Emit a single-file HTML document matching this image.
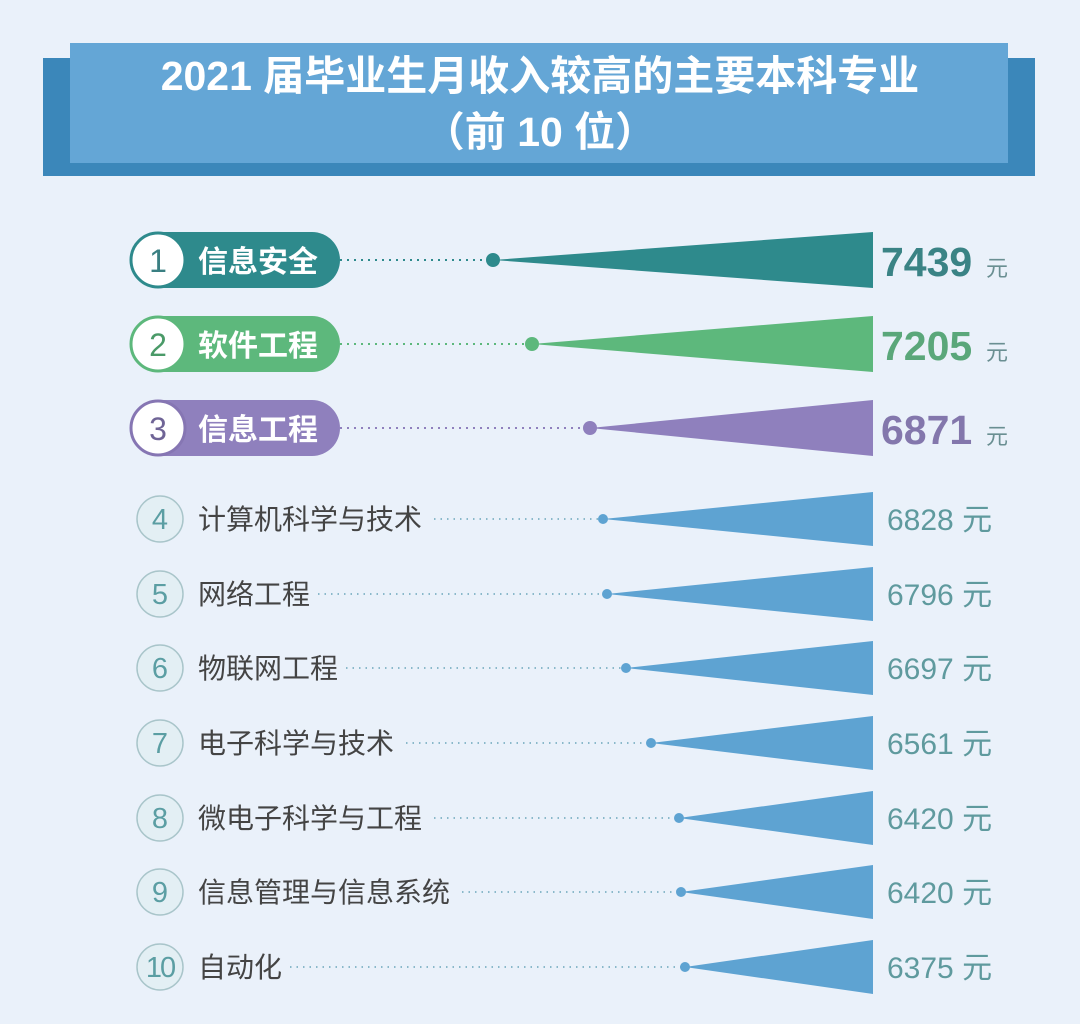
<!DOCTYPE html>
<html><head><meta charset="utf-8"><style>
html,body{margin:0;padding:0;background:#eaf1fa;}
svg{display:block}
text{font-family:"Liberation Sans","Noto Sans CJK SC",sans-serif;}
</style></head><body>
<svg width="1080" height="1024" viewBox="0 0 1080 1024" xmlns="http://www.w3.org/2000/svg">
<rect width="1080" height="1024" fill="#eaf1fa"/>
<rect x="43" y="58" width="992" height="118" fill="#3b87ba"/>
<rect x="70" y="43" width="938" height="120" fill="#64a6d6"/>
<text x="540" y="90" text-anchor="middle" font-size="41" font-weight="bold" fill="#fff">2021 届毕业生月收入较高的主要本科专业</text>
<text x="540" y="146" text-anchor="middle" font-size="41" font-weight="bold" fill="#fff">（前 10 位）</text>

<g stroke-dasharray="2 5" stroke-width="2" fill="none">
<line x1="340" y1="260" x2="493" y2="260" stroke="#2e8a8c"/>
<line x1="340" y1="344" x2="532" y2="344" stroke="#5db87c"/>
<line x1="340" y1="428" x2="590" y2="428" stroke="#8f80bd"/>
</g>
<g stroke="#6aa6ba" stroke-dasharray="1.5 5" stroke-width="1.5" fill="none">
<line x1="434" y1="519" x2="603" y2="519"/>
<line x1="318" y1="594" x2="607" y2="594"/>
<line x1="346" y1="668" x2="626" y2="668"/>
<line x1="406" y1="743" x2="651" y2="743"/>
<line x1="434" y1="818" x2="679" y2="818"/>
<line x1="462" y1="892" x2="681" y2="892"/>
<line x1="290" y1="967" x2="685" y2="967"/>
</g>

<polygon points="493,260 873,232 873,288" fill="#2e8a8c"/><circle cx="493" cy="260" r="7" fill="#2e8a8c"/>
<polygon points="532,344 873,316 873,372" fill="#5db87c"/><circle cx="532" cy="344" r="7" fill="#5db87c"/>
<polygon points="590,428 873,400 873,456" fill="#8f80bd"/><circle cx="590" cy="428" r="7" fill="#8f80bd"/>
<g fill="#5ea3d2">
<polygon points="603,519 873,492 873,546"/><circle cx="603" cy="519" r="5"/>
<polygon points="607,594 873,567 873,621"/><circle cx="607" cy="594" r="5"/>
<polygon points="626,668 873,641 873,695"/><circle cx="626" cy="668" r="5"/>
<polygon points="651,743 873,716 873,770"/><circle cx="651" cy="743" r="5"/>
<polygon points="679,818 873,791 873,845"/><circle cx="679" cy="818" r="5"/>
<polygon points="681,892 873,865 873,919"/><circle cx="681" cy="892" r="5"/>
<polygon points="685,967 873,940 873,994"/><circle cx="685" cy="967" r="5"/>
</g>

<rect x="132" y="232" width="208" height="56" rx="28" fill="#2e8a8c"/>
<circle cx="158" cy="260" r="27" fill="#fff" stroke="#2e8a8c" stroke-width="3"/>
<text x="158" y="272" text-anchor="middle" font-size="32" fill="#3a7f82">1</text>
<text x="198" y="272" font-size="30" font-weight="bold" fill="#fff">信息安全</text>

<rect x="132" y="316" width="208" height="56" rx="28" fill="#5db87c"/>
<circle cx="158" cy="344" r="27" fill="#fff" stroke="#5db87c" stroke-width="3"/>
<text x="158" y="356" text-anchor="middle" font-size="32" fill="#4a9a68">2</text>
<text x="198" y="356" font-size="30" font-weight="bold" fill="#fff">软件工程</text>

<rect x="132" y="400" width="208" height="56" rx="28" fill="#8f80bd"/>
<circle cx="158" cy="428" r="27" fill="#fff" stroke="#8676b3" stroke-width="3"/>
<text x="158" y="440" text-anchor="middle" font-size="32" fill="#6f6496">3</text>
<text x="198" y="440" font-size="30" font-weight="bold" fill="#fff">信息工程</text>

<g font-size="41" font-weight="bold">
<text x="881" y="276" fill="#3a8385">7439</text>
<text x="881" y="360" fill="#5aa77a">7205</text>
<text x="881" y="444" fill="#8377ac">6871</text>
</g>
<g font-size="22" fill="#6a8f92">
<text x="986" y="276">元</text><text x="986" y="360">元</text><text x="986" y="444">元</text>
</g>

<g fill="#e3eff4" stroke="#a9c5ca" stroke-width="1.5">
<circle cx="160" cy="519" r="23"/><circle cx="160" cy="594" r="23"/><circle cx="160" cy="668" r="23"/>
<circle cx="160" cy="743" r="23"/><circle cx="160" cy="818" r="23"/><circle cx="160" cy="892" r="23"/>
<circle cx="160" cy="967" r="23"/>
</g>
<g font-size="29" fill="#5b9ea3" text-anchor="middle">
<text x="160" y="529">4</text><text x="160" y="604">5</text><text x="160" y="678">6</text>
<text x="160" y="753">7</text><text x="160" y="828">8</text><text x="160" y="902">9</text>
<text x="160" y="977" letter-spacing="-2">10</text>
</g>
<g font-size="28" fill="#444">
<text x="198" y="529">计算机科学与技术</text>
<text x="198" y="604">网络工程</text>
<text x="198" y="678">物联网工程</text>
<text x="198" y="753">电子科学与技术</text>
<text x="198" y="828">微电子科学与工程</text>
<text x="198" y="902">信息管理与信息系统</text>
<text x="198" y="977">自动化</text>
</g>
<g font-size="30" fill="#5f9a9e">
<text x="887" y="530">6828 元</text>
<text x="887" y="605">6796 元</text>
<text x="887" y="679">6697 元</text>
<text x="887" y="754">6561 元</text>
<text x="887" y="829">6420 元</text>
<text x="887" y="903">6420 元</text>
<text x="887" y="978">6375 元</text>
</g>
</svg>
</body></html>
